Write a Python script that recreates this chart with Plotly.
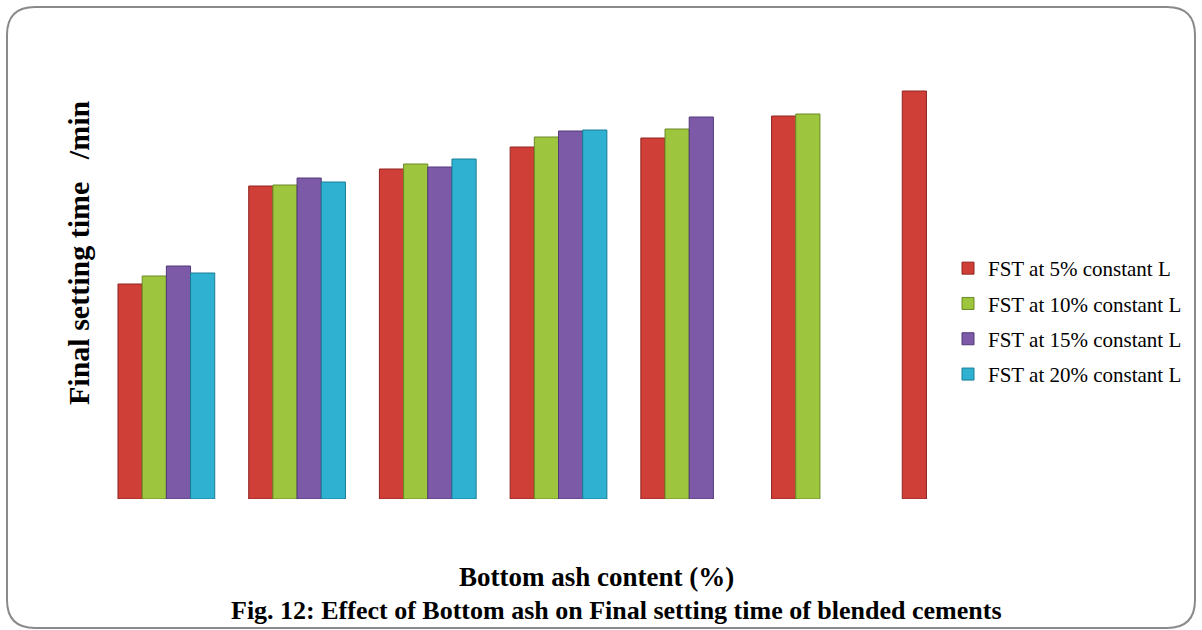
import plotly.graph_objects as go

# Categories (bottom ash content levels; tick labels are not shown in the reference)
categories = ["1", "2", "3", "4", "5", "6", "7"]

# Final setting time (relative units; the reference has no value axis)
fst_5 = [215, 313, 330, 352, 361, 383, 408]
fst_10 = [223, 314, 335, 362, 370, 385, None]
fst_15 = [233, 321, 332, 368, 382, None, None]
fst_20 = [226, 317, 340, 369, None, None, None]

series_names = [
    "FST at 5% constant L",
    "FST at 10% constant L",
    "FST at 15% constant L",
    "FST at 20% constant L",
]
series_values = [fst_5, fst_10, fst_15, fst_20]
colors = ["#D03E38", "#9DC53E", "#7D5AA8", "#2FB2D2"]
edge_colors = ["#8E2420", "#6A8A25", "#52387A", "#1A7C96"]

W, H = 1202, 630
ML, MR, MT, MB = 101, 186, 60, 131
PW, PH = W - ML - MR, H - MT - MB


def px_x(px):
    return (px - ML) / PW


def px_y(py):
    return (H - MB - py) / PH


fig = go.Figure()
for i, (name, vals) in enumerate(zip(series_names, series_values)):
    fig.add_trace(
        go.Bar(
            x=categories,
            y=vals,
            name=name,
            legendgroup=name,
            marker=dict(color=colors[i], line=dict(color=edge_colors[i], width=1)),
        )
    )

# rounded frame
x0, y0, x1, y1 = px_x(7), px_y(7), px_x(1195), px_y(628)
rx, ry = 28 / PW, 28 / PH
path = (
    f"M {x0 + rx},{y0} L {x1 - rx},{y0} Q {x1},{y0} {x1},{y0 - ry} "
    f"L {x1},{y1 + ry} Q {x1},{y1} {x1 - rx},{y1} "
    f"L {x0 + rx},{y1} Q {x0},{y1} {x0},{y1 + ry} "
    f"L {x0},{y0 - ry} Q {x0},{y0} {x0 + rx},{y0} Z"
)
fig.add_shape(
    type="path", path=path, xref="paper", yref="paper",
    line=dict(color="#8A8A8A", width=2), fillcolor="rgba(0,0,0,0)", layer="below",
)

fig.add_annotation(
    text="<b>Final setting time   /min</b>", textangle=-90,
    x=px_x(78), y=px_y(253), xref="paper", yref="paper",
    showarrow=False, font=dict(family="Liberation Serif", size=30, color="#000000"),
    xanchor="center", yanchor="middle",
)
fig.add_annotation(
    text="<b>Bottom ash content (%)</b>",
    x=px_x(596), y=px_y(577), xref="paper", yref="paper",
    showarrow=False, font=dict(family="Liberation Serif", size=27, color="#000000"),
    xanchor="center", yanchor="middle",
)
fig.add_annotation(
    text="<b>Fig. 12: Effect of Bottom ash on Final setting time of blended cements</b>",
    x=px_x(616), y=px_y(610), xref="paper", yref="paper",
    showarrow=False, font=dict(family="Liberation Serif", size=26, color="#000000"),
    xanchor="center", yanchor="middle",
)

fig.update_layout(
    width=W, height=H,
    margin=dict(l=ML, r=MR, t=MT, b=MB),
    paper_bgcolor="white", plot_bgcolor="white",
    barmode="group", bargap=0.26, bargroupgap=0.0,
    showlegend=True,
    legend=dict(
        x=px_x(948), y=px_y(248), xanchor="left", yanchor="top",
        font=dict(family="Liberation Serif", size=21, color="#000000"),
        tracegroupgap=5, itemwidth=30, bgcolor="rgba(0,0,0,0)",
    ),
    xaxis=dict(visible=False, range=[-0.5, 6.5]),
    yaxis=dict(visible=False, range=[0, PH]),
)

fig.write_html("out.html")
